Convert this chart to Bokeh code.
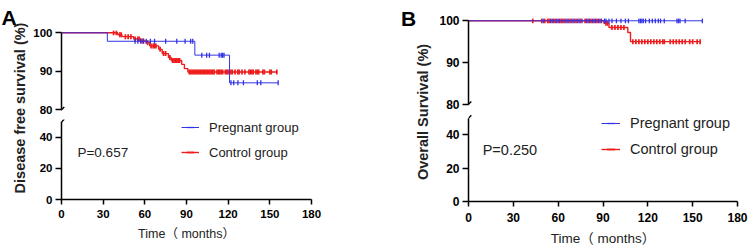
import numpy as np
from bokeh.plotting import figure
from bokeh.models import Range1d, FixedTicker, Label, Arrow, Legend, LegendItem
from bokeh.layouts import row, column
from bokeh.embed import file_html
from bokeh.resources import INLINE

# ---------------- data ----------------
x_ticks = [0, 30, 60, 90, 120, 150, 180]
y_ticks_upper = [80, 90, 100]
y_ticks_lower = [0, 20, 40]

# Panel A : disease free survival
a_preg_event_t = [33, 96, 121]
a_preg_event_s = [97.8, 94.2, 87.0]
a_preg_end = 156
a_preg_cens = [53, 55, 57, 59, 61, 64, 67, 75, 83, 89, 93, 94.5, 101, 104.5, 106.5,
               113.5, 115, 116, 117, 122, 124, 127, 131, 141, 143.5, 156]

a_ctrl_event_t = [40.5, 43.5, 52, 57, 61, 63.5, 70, 72.5, 77, 79, 86.5, 88.5, 91]
a_ctrl_event_s = [99.5, 99.0, 98.4, 97.9, 97.4, 96.6, 95.7, 94.6, 93.6, 92.8, 91.8, 90.7, 89.8]
a_ctrl_end = 155.5
a_ctrl_cens = [37.5, 39.5, 42, 43, 46, 48, 50, 53, 55, 56, 58, 59, 62, 64.5, 66, 67, 68,
               71, 73.5, 75, 78, 80, 81, 82, 83, 84, 85,
               92, 93, 94, 95, 96, 97, 98, 99, 100, 101, 102, 103, 104, 105, 106, 107,
               108, 109, 110, 112, 113, 114, 115, 116, 118, 119, 120, 122, 123, 125,
               127, 128, 130, 132, 135, 136, 137, 138, 140, 141, 142, 145, 146, 150,
               151, 155]

# Panel B : overall survival
b_preg_event_t = []
b_preg_event_s = []
b_preg_end = 156.8
b_preg_cens = [50, 55, 57, 59, 61, 64, 66, 68, 70, 72, 74, 76, 79, 81, 83, 85, 87, 89,
               91, 92, 94, 96, 99, 102, 105, 107, 114, 115, 116, 117, 118.5, 121, 123,
               125, 127, 128.5, 131, 139.5, 140.5, 141.5, 145, 156.5]

b_ctrl_event_t = [90.6, 94, 106.6, 108.4]
b_ctrl_event_s = [99.4, 98.4, 97.2, 95.0]
b_ctrl_end = 155.5
b_ctrl_cens = [43, 49, 51, 53, 54, 56, 58, 60, 62, 63, 65, 67, 69, 71, 73, 75, 78, 80,
               82, 84, 86, 88, 92, 93, 96, 98, 100, 102, 104, 110, 112, 114, 116, 118,
               120, 122, 124, 126, 128, 130, 131, 135, 137, 139, 141, 143, 145, 148,
               150, 153, 155]

series_labels = ["Pregnant group", "Control group"]
BLUE = "#3333e6"
RED = "#ee1c1c"
FONT = "Liberation Sans, Arial, 'Noto Sans CJK SC', sans-serif"
TXT = "#222222"


def km_xy(ev_t, ev_s, end):
    xs = [0] + list(ev_t) + [end]
    ys = [100] + list(ev_s) + [ev_s[-1] if ev_s else 100]
    return xs, ys


def cens_y(ev_t, ev_s, cens):
    levels = np.array([100] + list(ev_s))
    idx = np.searchsorted(np.array(ev_t, dtype=float), np.array(cens, dtype=float), side="right")
    return list(levels[idx])


def style_axis(ax, size, tick_out, standoff):
    ax.axis_line_width = 1.5
    ax.axis_line_color = "black"
    ax.major_tick_line_width = 1.5
    ax.major_tick_line_color = "black"
    ax.major_tick_out = tick_out
    ax.major_tick_in = 0
    ax.minor_tick_out = 0
    ax.minor_tick_in = 0
    ax.major_label_text_font = FONT
    ax.major_label_text_font_style = "bold"
    ax.major_label_text_font_size = size
    ax.major_label_text_color = "black"
    ax.major_label_standoff = standoff


def draw_curves(p, series):
    rends = {}
    for (key, ev_t, ev_s, end, cens, color, lw, mw) in series:
        xs, ys = km_xy(ev_t, ev_s, end)
        ln = p.step(x=xs, y=ys, mode="after", line_color=color, line_width=lw)
        mk = p.scatter(x=cens, y=cens_y(ev_t, ev_s, cens), marker="dash", angle=np.pi / 2,
                       size=5, line_color=color, line_width=mw)
        rends[key] = [ln, mk]
    return rends


def title_fig(w, letter, lx, ly, ytitle, tx, ty, ysize):
    f = figure(width=w, height=248, x_range=Range1d(0, w), y_range=Range1d(0, 248),
               x_axis_location=None, y_axis_location=None, min_border=0,
               toolbar_location=None, output_backend="svg")
    f.outline_line_color = None
    f.grid.visible = False
    f.add_layout(Label(x=lx, y=ly, text=letter, text_font=FONT, text_font_style="bold",
                       text_font_size="21px", text_color="black", text_align="left",
                       text_baseline="alphabetic"))
    f.add_layout(Label(x=tx, y=ty, text=ytitle, angle=np.pi / 2, text_font=FONT,
                       text_font_style="bold", text_font_size=ysize, text_color=TXT,
                       text_align="center", text_baseline="middle"))
    return f


def panel(g, series, ptext, ytitle, letter):
    xr = Range1d(0, 180)
    width = g["L"] + g["FW"] + g["R"]
    # upper segment
    up = figure(width=width, height=g["UT"] + g["UH"] + g["UB"], x_range=xr,
                y_range=Range1d(g["uy0"], g["uy1"]), x_axis_location=None,
                min_border_left=g["L"], min_border_right=g["R"], min_border_top=g["UT"],
                min_border_bottom=g["UB"], toolbar_location=None, output_backend="svg")
    # lower segment
    lo = figure(width=width, height=g["LT"] + g["LH"] + g["LB"], x_range=xr,
                y_range=Range1d(0, g["ly1"]),
                min_border_left=g["L"], min_border_right=g["R"], min_border_top=g["LT"],
                min_border_bottom=g["LB"], toolbar_location=None, output_backend="svg")
    for p in (up, lo):
        p.outline_line_color = None
        p.grid.visible = False
        p.background_fill_color = "white"
        p.border_fill_color = "white"
    up.yaxis.ticker = FixedTicker(ticks=y_ticks_upper)
    up.yaxis.bounds = (80, 100)
    lo.yaxis.ticker = FixedTicker(ticks=y_ticks_lower)
    lo.yaxis.bounds = (0, 50)
    lo.xaxis.ticker = FixedTicker(ticks=x_ticks)
    for ax in (up.yaxis[0], lo.yaxis[0]):
        style_axis(ax, g["tick_size"], g["ytick_out"], g["ystand"])
    style_axis(lo.xaxis[0], g["tick_size"], g["xtick_out"], g["xstand"])
    lo.xaxis.axis_label = "Time（ months）"
    lo.xaxis.axis_label_text_font = FONT
    lo.xaxis.axis_label_text_font_style = "normal"
    lo.xaxis.axis_label_text_font_size = g["xlab_size"]
    lo.xaxis.axis_label_text_color = TXT
    lo.xaxis.axis_label_standoff = g["xlab_stand"]

    draw_curves(up, series)
    rends = draw_curves(lo, series)

    # break marks
    xs_ = g["FW"] / 180.0
    uys = g["UH"] / (g["uy1"] - g["uy0"])
    lys = g["LH"] / g["ly1"]
    d = 2.8
    up.add_layout(Arrow(end=None, x_start=-d / xs_, y_start=80 - d / uys,
                        x_end=d / xs_, y_end=80 + d / uys, line_width=1.4, line_color="black"))
    lo.add_layout(Arrow(end=None, x_start=-d / xs_, y_start=50 - d / lys,
                        x_end=d / xs_, y_end=50 + d / lys, line_width=1.4, line_color="black"))

    legend = Legend(items=[LegendItem(label=series_labels[0], renderers=rends["preg"]),
                           LegendItem(label=series_labels[1], renderers=rends["ctrl"])],
                    location=g["leg_loc"], orientation="vertical", glyph_width=g["gw"],
                    glyph_height=20, label_height=20, spacing=g["leg_sp"], padding=0, margin=0,
                    label_standoff=10, border_line_color=None, background_fill_alpha=0,
                    label_text_font=FONT, label_text_font_size=g["leg_size"],
                    label_text_color=TXT)
    lo.add_layout(legend)
    lo.add_layout(Label(x=g["px"], y=g["py"], text=ptext, text_font=FONT,
                        text_font_size=g["p_size"], text_color=TXT, text_align="left",
                        text_baseline="middle"))

    tf = title_fig(g["TW"], letter, g["lx"], g["ly"], ytitle, g["tx"], g["ty"], g["ytitle_size"])
    return row(tf, column(up, lo))


gA = dict(TW=30, L=30, FW=251, R=64, UT=30, UH=84, UB=4, uy0=78.77, uy1=100.6,
          LT=1, LH=80, LB=49, ly1=51.6, tick_size="11.5px", ytick_out=6, xtick_out=5,
          ystand=3, xstand=5,
          xlab_size="12.5px", xlab_stand=6, leg_loc=(120, 37), gw=18, leg_sp=5,
          leg_size="13px", px=11.5, py=30, p_size="13.5px",
          lx=1, ly=230.7, tx=19.5, ty=140.5, ytitle_size="14.5px")
gB = dict(TW=57, L=36, FW=269, R=13, UT=18, UH=90, uy0=78.97, uy1=100.55, UB=4,
          LT=1, LH=88, LB=47, ly1=52.8, tick_size="12px", ytick_out=6, xtick_out=5,
          ystand=3, xstand=6,
          xlab_size="13.5px", xlab_stand=6, leg_loc=(133, 42), gw=19, leg_sp=6,
          leg_size="14.5px", px=9.5, py=31, p_size="14.5px",
          lx=25.5, ly=229.7, tx=47.5, ty=136.5, ytitle_size="14.5px")

seriesA = [("ctrl", a_ctrl_event_t, a_ctrl_event_s, a_ctrl_end, a_ctrl_cens, RED, 1.4, 1.7),
           ("preg", a_preg_event_t, a_preg_event_s, a_preg_end, a_preg_cens, BLUE, 1.0, 1.3)]
seriesB = [("ctrl", b_ctrl_event_t, b_ctrl_event_s, b_ctrl_end, b_ctrl_cens, RED, 1.4, 1.7),
           ("preg", b_preg_event_t, b_preg_event_s, b_preg_end, b_preg_cens, BLUE, 1.0, 1.3)]

pa = panel(gA, seriesA, "P=0.657", "Disease free survival (%)", "A")
pb = panel(gB, seriesB, "P=0.250", "Overall Survival (%)", "B")
layout = row(pa, pb)

open("out.html", "w").write(file_html(layout, INLINE))
